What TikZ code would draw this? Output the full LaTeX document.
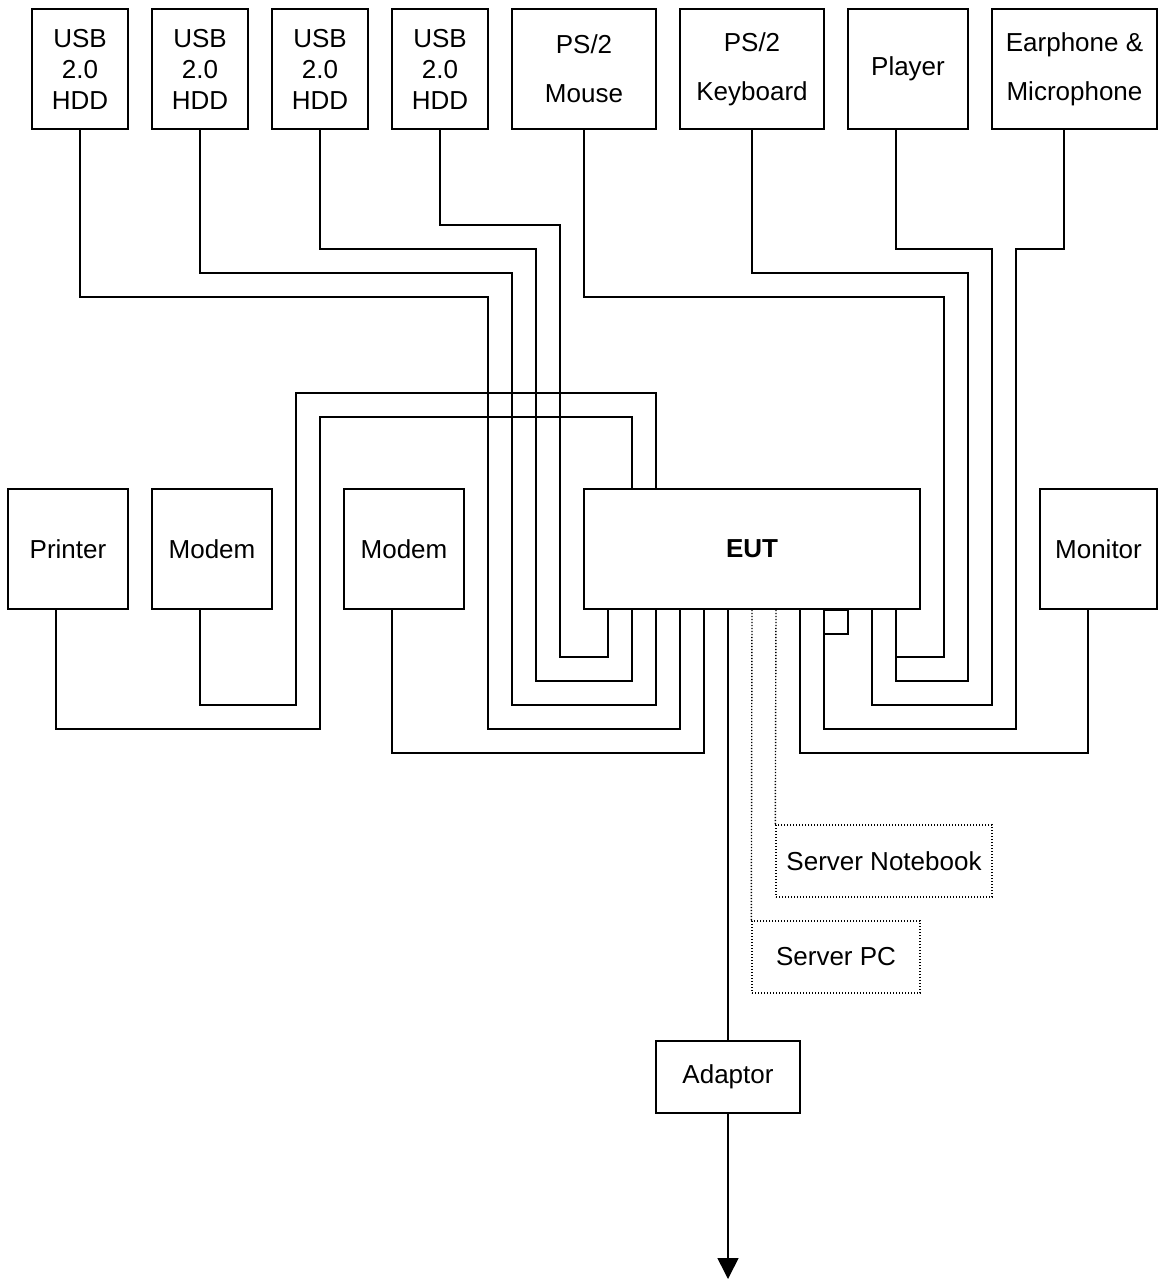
\documentclass[tikz,border=0pt]{standalone}
\usepackage{fontspec}
\setmainfont{Liberation Sans}
\usepackage{tikz}
\usetikzlibrary{positioning}
\usetikzlibrary{arrows.meta}
\tikzstyle{cable} = [line width=1.6pt]
\tikzstyle{link} = [line width=1.4pt, dash pattern=on 1.4pt off 1.6pt]
\tikzstyle{unit} = [draw, cable, align=center, inner sep=0pt, minimum height=120pt, font=\fontsize{26}{49}\selectfont]
\tikzstyle{hdd} = [unit, minimum width=96pt, font=\fontsize{26}{31}\selectfont]
\tikzstyle{server} = [draw, link, inner sep=0pt, minimum height=72pt, font=\fontsize{26}{31}\selectfont]

\begin{document}
\begin{tikzpicture}[x=1pt,y=-1pt]
      \useasboundingbox (0,0) rectangle (1158,1280);
      \node[hdd] (usb1) at (80,69) {USB\\2.0\\HDD};
      \node[hdd] (usb2) at (200,69) {USB\\2.0\\HDD};
      \node[hdd] (usb3) at (320,69) {USB\\2.0\\HDD};
      \node[hdd] (usb4) at (440,69) {USB\\2.0\\HDD};
      \node[unit, minimum width=144pt] (mouse) at (584,69) {PS/2\\Mouse};
      \node[unit, minimum width=144pt] (keyb) at (752,69) {PS/2\\Keyboard};
      \node[unit, minimum width=120pt] (player) at (908,69) {Player};
      \node[unit, minimum width=165pt] (mic) at (1074.5,69) {Earphone \&\\Microphone};
      \node[unit, minimum width=120pt] (printer) at (68,549) {Printer};
      \node[unit, minimum width=120pt] (modem1) at (212,549) {Modem};
      \node[unit, minimum width=120pt] (modem2) at (404,549) {Modem};
      \node[unit, minimum width=336pt] (eut) at (752,549) {\textbf{EUT}};
      \node[unit, minimum width=117pt] (monitor) at (1098.5,549) {Monitor};
      \node[draw, cable, inner sep=0pt, outer sep=0pt, minimum size=24pt, anchor=north west] (port) at ([xshift=72pt]eut.south) {};
      \node[server, minimum width=216pt] (srvnb) at (884,861) {Server Notebook};
      \node[server, minimum width=168pt] (srvpc) at (836,957) {Server PC};
      \node[draw, cable, inner sep=0pt, minimum width=144pt, minimum height=72pt, font=\fontsize{26}{31}\selectfont] (adaptor) at (728,1077) {Adaptor};
      \coordinate (gnd) at (728,1279);
      % cables from the top row
      \draw[cable] (usb1.south) |- (488,297) |- (680,729) -- ([xshift=-72pt]eut.south);
      \draw[cable] (usb2.south) |- (512,273) |- (656,705) -- ([xshift=-96pt]eut.south);
      \draw[cable] (usb3.south) |- (536,249) |- (632,681) -- ([xshift=-120pt]eut.south);
      \draw[cable] (usb4.south) |- (560,225) |- (608,657) -- ([xshift=-144pt]eut.south);
      \draw[cable] (mouse.south) |- (944,297) |- (896,657) -- ([xshift=144pt]eut.south);
      \draw[cable] (keyb.south) |- (968,273) |- (896,681) -- ([xshift=144pt]eut.south);
      \draw[cable] ([xshift=-12pt]player.south) |- (992,249) |- (872,705) -- ([xshift=120pt]eut.south);
      \draw[cable] ([xshift=-10.5pt]mic.south) |- (1016,249) |- (824,729) -- ([xshift=72pt]eut.south);
      % cables from the middle row
      \draw[cable] ([xshift=-12pt]printer.south) |- (320,729) |- (632,417) -- ([xshift=-120pt]eut.north);
      \draw[cable] ([xshift=-12pt]modem1.south) |- (296,705) |- (656,393) -- ([xshift=-96pt]eut.north);
      \draw[cable] ([xshift=-12pt]modem2.south) |- (704,753) -- ([xshift=-48pt]eut.south);
      \draw[cable] ([xshift=-10.5pt]monitor.south) |- (800,753) -- ([xshift=48pt]eut.south);
      %\draw[link] (eut.south) -- (adaptor.north);
      \draw[link] (eut.south) -- (srvpc.north west);
      \draw[link] ([xshift=24pt]eut.south) -- (srvnb.north west);
      \draw[cable] ([xshift=-24pt]eut.south) -- (adaptor.north);
      \draw[cable, -{Triangle[width=21pt,length=21pt]}] (adaptor.south) -- (gnd);
\end{tikzpicture}
\end{document}
